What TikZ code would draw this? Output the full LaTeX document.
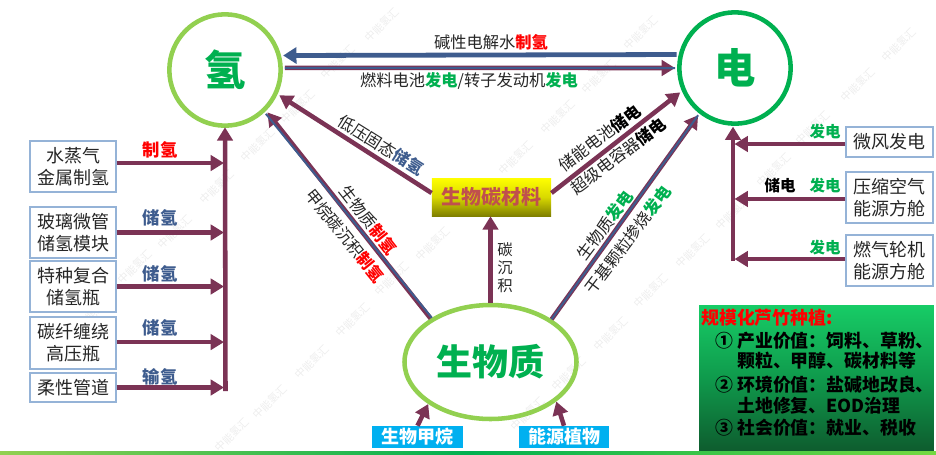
\documentclass[tikz,border=0pt]{standalone}
\usepackage{fontspec}
\setmainfont{Noto Sans CJK SC}
\usetikzlibrary{arrows.meta,shapes.geometric}
\definecolor{plum}{HTML}{7B3355}
\definecolor{steel}{HTML}{3E5C8E}
\definecolor{leaf}{HTML}{92D050}
\definecolor{grass}{HTML}{00B050}
\definecolor{boxline}{HTML}{95B3D7}
\definecolor{darktext}{HTML}{262626}
\definecolor{skyfill}{HTML}{00B0F0}
\definecolor{brick}{HTML}{C0504D}
\newcommand{\zhiqing}{\textbf{\textcolor{red}{制氢}}}
\newcommand{\chuqing}{\textbf{\textcolor{steel}{储氢}}}
\newcommand{\fadian}{\textbf{\textcolor{grass}{发电}}}
\newcommand{\chudian}{\textbf{\textcolor{black}{储电}}}
\newcommand{\feedarrow}[3]{
  \draw[plumarrow] ([yshift=#3]#1.#2) -- ([yshift=#3]#1.#2 -| \busname);
}
\tikzset{
  plumarrow/.style={draw=plum,line width=3.4pt,-{Triangle[length=10pt,width=11.5pt]}},
  steelarrow/.style={draw=steel,line width=3.6pt,-{Triangle[length=10pt,width=12pt]}},
  stripe/.style={draw=steel,line width=1.5pt},
  hub/.style={circle,draw=#1,line width=3.4pt,inner sep=0pt,minimum size=83.5pt,outer sep=3.2pt},
  srcbox/.style={draw=boxline,line width=1pt,fill=white,inner sep=0pt,align=center,text=darktext,
    font=\fontsize{13.5}{16.5}\selectfont},
  lbl/.style={inner sep=0pt,text=darktext,font=\fontsize{12.2}{15}\selectfont},
  tag/.style={inner sep=0pt,font=\fontsize{13}{15}\selectfont},
  smalltag/.style={inner sep=0pt,font=\fontsize{11.6}{14}\selectfont},
  cyanbox/.style={fill=skyfill,inner sep=0pt,minimum width=68pt,minimum height=16.5pt,
    text=white,font=\fontsize{13.5}{15}\selectfont\bfseries},
  panelline/.style={inner sep=0pt,anchor=west,text=black,font=\fontsize{13.4}{15}\selectfont\bfseries},
  mark wm/.style={inner sep=0pt,rotate=45,text=gray!14,font=\fontsize{8}{9}\selectfont},
}
\begin{document}
\begin{tikzpicture}[x=0.75pt,y=-0.75pt]
  \useasboundingbox (0,0) rectangle (936,454);

  % faint marks behind everything
  \foreach \p [count=\i] in {(382,25),(338,62),(298,107),(258,145),(217,187),(175,232),(135,267),(95,312),(50,354),
      (433,244),(392,279),(353,320),(312,362),(270,402),(232,435),(641,33),(599,77),(558,117),(516,158),
      (899,45),(858,85),(813,128),(774,170),(733,213),(693,251),(651,291),(611,334),(569,374),(528,414)}
    \node[mark wm] (wm\i) at \p {中能氢汇};

  % three hubs
  \node[hub=leaf] (qing) at (225,70) {\fontsize{31}{31}\selectfont\bfseries\textcolor{grass}{氢}};
  \node[hub=grass] (dian) at (735,68) {\fontsize{31}{31}\selectfont\bfseries\textcolor{grass}{电}};
  \node[ellipse,draw=leaf,line width=3.4pt,inner sep=0pt,minimum width=129pt,minimum height=85.5pt,outer sep=1.7pt]
    (bio) at (490.5,362) {\fontsize{27}{27}\selectfont\bfseries\textcolor{grass}{生物质}};

  \node[draw=none,top color=yellow,bottom color=yellow!50!black,middle color=yellow!85!black,inner sep=0pt,
    minimum width=89.5pt,minimum height=28.5pt,text=brick,
    font=\fontsize{15}{15}\selectfont\bfseries] (char) at (491.5,197) {生物碳材料};

  % left sources
  \node[srcbox,minimum width=64.5pt,minimum height=38.25pt] (steam) at (73,166.5) {水蒸气\\金属制氢};
  \node[srcbox,minimum width=64.5pt,minimum height=38.25pt] (glass) at (73,232.5) {玻璃微管\\储氢模块};
  \node[srcbox,minimum width=64.5pt,minimum height=38.25pt] (bottle) at (73,286.5) {特种复合\\储氢瓶};
  \node[srcbox,minimum width=64.5pt,minimum height=39pt] (fiber) at (73,343) {碳纤缠绕\\高压瓶};
  \node[srcbox,minimum width=64.5pt,minimum height=21.75pt] (pipe) at (73,387.5) {柔性管道};

  \coordinate (busL) at (224,389);
  \coordinate (busLtop) at (225.5,391);
  \draw[plumarrow,shorten >=-2pt] (busLtop) -- (qing.-90);
  \def\busname{busL}
  \feedarrow{steam}{east}{2.6pt}
  \feedarrow{glass}{east}{0pt}
  \feedarrow{bottle}{east}{0pt}
  \feedarrow{fiber}{east}{0.7pt}
  \feedarrow{pipe}{east}{0pt}

  \node[tag] (t1) at (160,150) {\zhiqing};
  \node[tag] (t2) at (160,218) {\chuqing};
  \node[tag] (t3) at (160,274) {\chuqing};
  \node[tag] (t4) at (160,328) {\chuqing};
  \node[tag] (t5) at (160,377) {\textbf{\textcolor{steel}{输氢}}};

  % right sources
  \node[srcbox,minimum width=65.25pt,minimum height=22.5pt] (wind) at (889.5,142) {微风发电};
  \node[srcbox,minimum width=65.25pt,minimum height=38.25pt] (air) at (889.5,197.5) {压缩空气\\能源方舱};
  \node[srcbox,minimum width=65.25pt,minimum height=38.25pt] (gas) at (889.5,260.5) {燃气轮机\\能源方舱};

  \coordinate (busR) at (734.5,260);
  \coordinate (busRtop) at (733,261);
  \draw[plumarrow,shorten >=-1pt] (busRtop) -- (busRtop |- dian.-90);
  \def\busname{busR}
  \feedarrow{wind}{west}{-1.5pt}
  \feedarrow{air}{west}{-1.1pt}
  \feedarrow{gas}{west}{1.1pt}

  \node[smalltag] (t6) at (825,132) {\fadian};
  \node[smalltag] (t7) at (825,186) {\fadian};
  \node[smalltag] (t8) at (780,186) {\chudian};
  \node[smalltag] (t9) at (825,248) {\fadian};

  % hydrogen <-> power
  \draw[steelarrow] (dian.167.5) -- (qing.14.5);
  \draw[plumarrow] (qing.2) -- (dian.180);
  \draw[stripe] (qing.2) -- (dian.180);
  \node[lbl] (top1) at (491,42) {碱性电解水\zhiqing};
  \node[lbl] (top2) at (469,81) {燃料电池\fadian/转子发动机\fadian};

  % biochar
  \draw[plumarrow] ([yshift=3pt]char.west) -- (qing.-25);
  \draw[plumarrow] ([yshift=3pt]char.east) -- (dian.-156);
  \draw[plumarrow] (bio.north) -- (bio.north |- char.south);
  \node[lbl] (l1) at (381,145) [rotate=-32] {低压固态\chuqing};
  \node[lbl] (l2) at (600,138) [rotate=37] {储能电池\chudian};
  \node[lbl] (l3) at (618,156) [rotate=37] {超级电容器\chudian};
  \node[lbl,align=center,font=\fontsize{11.5}{13.5}\selectfont] (l4) at (505,268) {碳\\沉\\积};

  % biomass
  \draw[plumarrow] (bio.144.5) -- (qing.-45);
  \draw[stripe] (bio.143) -- (qing.-47);
  \draw[plumarrow] (bio.35) -- (dian.-128);
  \draw[stripe] (bio.35) -- (dian.-128);
  \node[lbl] (l5) at (368,220) [rotate=-52] {生物质\zhiqing};
  \node[lbl] (l6) at (345,236) [rotate=-51] {甲烷碳沉积\zhiqing};
  \node[lbl] (l7) at (605,225) [rotate=53] {生物质\fadian};
  \node[lbl] (l8) at (628,240) [rotate=53] {干基颗粒掺烧\fadian};

  \node[cyanbox] (methane) at (417.5,437) {生物甲烷};
  \node[cyanbox] (plant) at (564,437) {能源植物};
  \draw[plumarrow] (methane.north) -- (bio.214.6);
  \draw[plumarrow] (plant.north) -- (bio.-31.8);

  % value panel
  \definecolor{paneltop}{HTML}{17CC66}
  \definecolor{panelmid}{HTML}{0F9A4C}
  \definecolor{panelbot}{HTML}{0E5C2E}
  \node[inner sep=0pt,minimum width=176pt,minimum height=109.5pt,top color=paneltop,
    bottom color=panelbot,middle color=panelmid] (panel) at (816.5,378) {};
  \node[panelline,text=red] (p0) at (701,318) {规模化芦竹种植:};
  \node[panelline] (n1) at (715,341) {①};
  \node[panelline] (p1) at (737,341) {产业价值：饲料、草粉、};
  \node[panelline] (p2) at (737,361) {颗粒、甲醇、碳材料等};
  \node[panelline] (n2) at (715,385) {②};
  \node[panelline] (p3) at (737,385) {环境价值：盐碱地改良、};
  \node[panelline] (p4) at (737,406) {土地修复、EOD治理};
  \node[panelline] (n3) at (715,428) {③};
  \node[panelline] (p5) at (737,428) {社会价值：就业、税收};

  \node[inner sep=0pt,minimum width=702pt,minimum height=1.8pt,left color=leaf,right color=leaf!80!green,
    middle color=grass] (strip) at (468,453) {};
\end{tikzpicture}
\end{document}
